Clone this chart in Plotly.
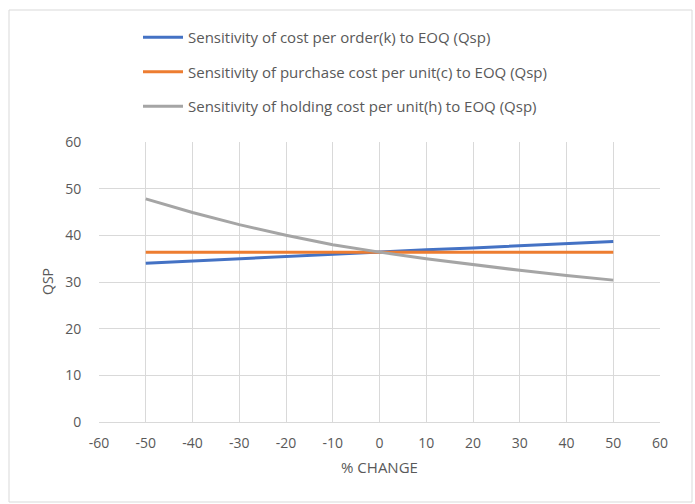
import plotly.graph_objects as go

# Percentage change applied to each input parameter
pct_change = [-50, -40, -30, -20, -10, 0, 10, 20, 30, 40, 50]

# Resulting Qsp for each sensitivity run
qsp_order_cost = [34.0, 34.5, 34.9, 35.4, 35.9, 36.4, 36.9, 37.3, 37.8, 38.2, 38.7]
qsp_purchase_cost = [36.4, 36.4, 36.4, 36.4, 36.4, 36.4, 36.4, 36.4, 36.4, 36.4, 36.4]
qsp_holding_cost = [47.8, 44.9, 42.3, 40.0, 38.0, 36.4, 35.0, 33.7, 32.5, 31.4, 30.4]

series_names = [
    "Sensitivity of cost per order(k) to EOQ (Qsp)",
    "Sensitivity of purchase cost per unit(c) to EOQ (Qsp)",
    "Sensitivity of holding cost per unit(h) to EOQ (Qsp)",
]
series_values = [qsp_order_cost, qsp_purchase_cost, qsp_holding_cost]
series_colors = ["#4472C4", "#ED7D31", "#A5A5A5"]

x_ticks = list(range(-60, 61, 10))
y_ticks = list(range(0, 61, 10))

W, H = 695, 504
L, R, T, B = 99, 35, 142, 82
plot_w = W - L - R
plot_h = H - T - B

FONT = "'Open Sans', Lato, sans-serif"
TEXT = "#595959"
GRID = "#D9D9D9"

fig = go.Figure()
for i, (name, vals, col) in enumerate(zip(series_names, series_values, series_colors)):
    fig.add_trace(go.Scatter(
        x=pct_change, y=vals, mode="lines", name=name,
        legendgroup=f"g{i}",
        line=dict(color=col, width=3),
    ))


def px_x(p):
    return (p - L) / plot_w


def px_y(p):
    return (H - B - p) / plot_h


# Outer chart frame
fig.add_shape(type="rect", xref="paper", yref="paper",
              x0=px_x(9), x1=px_x(692), y0=px_y(502), y1=px_y(10),
              line=dict(color=GRID, width=1), fillcolor="rgba(0,0,0,0)",
              layer="below")

# Vertical y-axis title
fig.add_annotation(text="QSP", xref="paper", yref="paper",
                   x=px_x(47), y=0.5, xanchor="center", yanchor="middle",
                   textangle=-90, showarrow=False,
                   font=dict(family=FONT, size=14, color=TEXT))

fig.update_layout(
    width=W, height=H,
    margin=dict(l=L, r=R, t=T, b=B),
    paper_bgcolor="white", plot_bgcolor="white",
    font=dict(family=FONT, size=14, color=TEXT),
    showlegend=True,
    legend=dict(
        x=px_x(138), y=px_y(21), xanchor="left", yanchor="top",
        orientation="v", traceorder="grouped", tracegroupgap=12,
        itemwidth=40,
        font=dict(family=FONT, size=15, color=TEXT),
        bgcolor="rgba(0,0,0,0)",
    ),
    xaxis=dict(
        range=[-60, 60], tickvals=x_ticks, ticktext=[str(v) for v in x_ticks],
        showgrid=True, gridcolor=GRID, gridwidth=1,
        zeroline=False, showline=True, linecolor=GRID, linewidth=1,
        ticks="outside", ticklen=8, tickcolor="rgba(0,0,0,0)",
        tickfont=dict(size=14, color=TEXT),
        title=dict(text="% CHANGE", standoff=11, font=dict(size=15, color=TEXT)),
        mirror=False,
    ),
    yaxis=dict(
        range=[0, 60], tickvals=y_ticks,
        showgrid=True, gridcolor=GRID, gridwidth=1,
        zeroline=False, showline=False,
        ticks="outside", ticklen=14, tickcolor="rgba(0,0,0,0)",
        tickfont=dict(size=14, color=TEXT),
    ),
)

fig.write_html("out.html")
